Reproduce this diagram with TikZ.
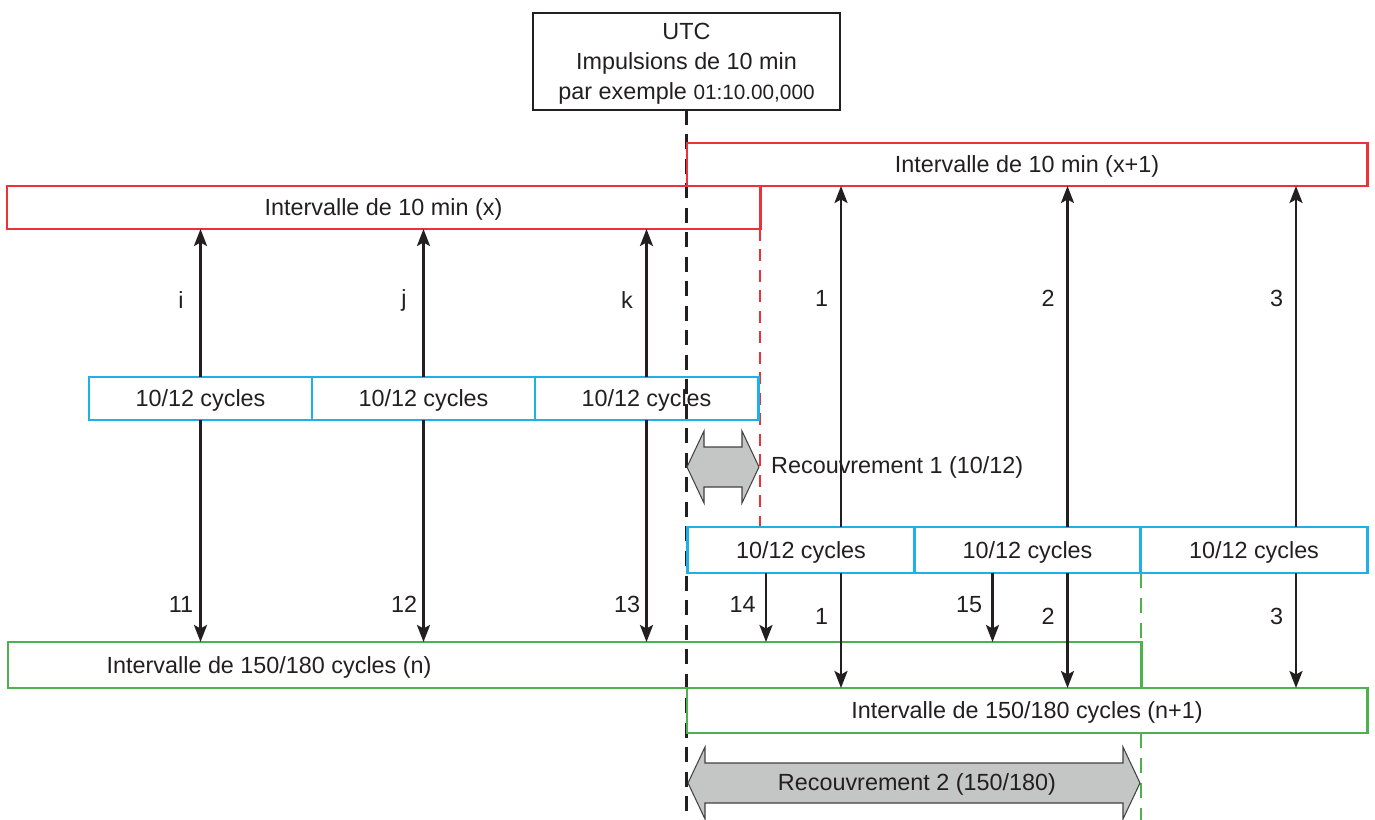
\documentclass[tikz,border=0pt]{standalone}
\usepackage{xcolor}
\usepackage{fontspec}
\setmainfont{Liberation Sans}
\usepackage{tikz}
\usetikzlibrary{positioning,arrows.meta,calc,backgrounds}
\definecolor{ink}{HTML}{231F20}
\definecolor{ivred}{HTML}{ED3237}
\definecolor{cycblue}{HTML}{1DB1E8}
\definecolor{ivgreen}{HTML}{4DB24D}
\definecolor{ovgray}{HTML}{C4C6C5}
\tikzset{
  blk/.style    = {draw, outer sep=0pt, inner sep=2pt, line width=1.7pt,
                   text=ink, align=center, text depth=0pt},
  utcbox/.style = {blk, draw=ink, line width=1.3pt, minimum width=6.14cm,
                   minimum height=1.94cm},
  win/.style    = {blk, draw=ivred, minimum height=0.86cm},
  cyc/.style    = {blk, draw=cycblue, minimum height=0.86cm},
  agg/.style    = {blk, draw=ivgreen, minimum height=0.92cm},
  txt/.style    = {text=ink},
  ar/.style     = {-{Stealth[length=3.4mm, width=2.6mm, inset=0.7mm]},
                   draw=ink, line width=1.4pt},
  lbl/.style    = {text=ink, inner sep=1pt, xshift=-3.9mm},
  ovl/.style    = {fill=ovgray, draw=ink!85, line width=0.6pt},
  utcline/.style= {draw=ink, line width=1.7pt, dash pattern=on 3mm off 1.9mm},
  redline/.style= {draw=ivred, line width=1.5pt, dash pattern=on 2.4mm off 1.7mm},
  grnline/.style= {draw=ivgreen, line width=1.5pt, dash pattern=on 3mm off 2mm},
}
\begin{document}
\begin{tikzpicture}[font=\fontsize{13.3}{17}\selectfont, node distance=0pt]
\useasboundingbox (0,0) rectangle (27.5,-16.4);

% --- UTC pulse ---
\node[utcbox] (utc) at (13.73,-1.23)
     {UTC\\Impulsions de 10 min\\par exemple {\fontsize{11.8}{17}\selectfont 01:10.00,000}};

% --- 10 min intervals ---
\node[win, minimum width=15.06cm] (ivx) at (7.67,-4.15)
     {Intervalle de 10 min (x)};
\node[win, minimum width=13.6cm] (ivx1) at (20.54,-3.29)
     {Intervalle de 10 min (x+1)};

% --- 10/12 cycle blocks ---
\node[cyc, minimum width=4.46cm] (a1) at (4.01,-7.97) {10/12 cycles};
\node[cyc, minimum width=4.46cm, right=of a1] (a2) {10/12 cycles};
\node[cyc, minimum width=4.46cm, right=of a2] (a3) {10/12 cycles};
\node[cyc, minimum width=4.53cm, minimum height=0.92cm] (c1) at (16.02,-11.0)
     {10/12 cycles};
\node[cyc, minimum width=4.53cm, minimum height=0.92cm, right=of c1] (c2)
     {10/12 cycles};
\node[cyc, minimum width=4.53cm, minimum height=0.92cm, right=of c2] (c3)
     {10/12 cycles};

% --- 150/180 cycle intervals ---
\node[agg, minimum width=22.66cm] (gn) at (11.49,-13.3) {};
\node[txt, text depth=0pt, right=1.85cm of gn.west] (gnlbl)
     {Intervalle de 150/180 cycles (n)};
\node[agg, minimum width=13.6cm, minimum height=0.9cm] (gn1) at (20.54,-14.21)
     {Intervalle de 150/180 cycles (n+1)};

% --- overlaps ---
\draw[ovl] (13.74,-9.34) -- ++(0.34,0.72) -- ++(0,-0.32) -- ++(0.76,0)
  -- ++(0,0.32) -- ++(0.34,-0.72) -- ++(-0.34,-0.72) -- ++(0,0.32)
  -- ++(-0.76,0) -- ++(0,-0.32) -- cycle;
\coordinate (ov1r) at (15.18,-9.34);
\node[txt, right=1.2mm of ov1r] (rec1) {Recouvrement 1 (10/12)};
\draw[ovl] (13.76,-15.66) -- ++(0.34,0.72) -- ++(0,-0.32) -- ++(8.36,0)
  -- ++(0,0.32) -- ++(0.34,-0.72) -- ++(-0.34,-0.72) -- ++(0,0.32)
  -- ++(-8.36,0) -- ++(0,-0.32) -- cycle;
\node[txt, text depth=0pt] (rec2) at (18.34,-15.64) {Recouvrement 2 (150/180)};

% --- interval x: i, j, k and 11, 12, 13 ---
\draw[ar] (a1.north) -- (a1.north |- ivx.south) node[lbl, pos=.52] {i};
\draw[ar] (a2.north) -- (a2.north |- ivx.south) node[lbl, pos=.52] {j};
\draw[ar] (a3.north) -- (a3.north |- ivx.south) node[lbl, pos=.52] {k};
\draw[ar] (a1.south) -- (a1.south |- gn.north) node[lbl, pos=.83] {11};
\draw[ar] (a2.south) -- (a2.south |- gn.north) node[lbl, pos=.83] {12};
\draw[ar] (a3.south) -- (a3.south |- gn.north) node[lbl, pos=.83] {13};

% --- interval x+1: 1, 2, 3 ---
\coordinate (u1) at ([xshift=8mm]c1.north);
\coordinate (u2) at ([xshift=8mm]c2.north);
\coordinate (u3) at ([xshift=8.4mm]c3.north);
\coordinate (d1) at ([xshift=8mm]c1.south);
\coordinate (d2) at ([xshift=8mm]c2.south);
\coordinate (d3) at ([xshift=8.4mm]c3.south);
\coordinate (e1) at ([xshift=-7mm]c1.south);
\coordinate (e2) at ([xshift=-7mm]c2.south);
\draw[ar] (u1) -- (u1 |- ivx1.south) node[lbl, pos=.67] {1};
\draw[ar] (u2) -- (u2 |- ivx1.south) node[lbl, pos=.67] {2};
\draw[ar] (u3) -- (u3 |- ivx1.south) node[lbl, pos=.67] {3};
\draw[ar] (d1) -- (d1 |- gn1.north) node[lbl, pos=.38] {1};
\draw[ar] (d2) -- (d2 |- gn1.north) node[lbl, pos=.38] {2};
\draw[ar] (d3) -- (d3 |- gn1.north) node[lbl, pos=.38] {3};
\draw[ar] (e1) -- (e1 |- gn.north) node[lbl, pos=.46, xshift=-.8mm] {14};
\draw[ar] (e2) -- (e2 |- gn.north) node[lbl, pos=.46, xshift=-.8mm] {15};

\begin{scope}[on background layer]
  \coordinate (bot) at (0,-16.4);
  \draw[utcline] (utc.south) -- (utc.south |- bot);
  \draw[redline] (ivx.south east) -- (ivx.south east |- c1.north);
  \draw[grnline] (gn.north east |- c2.south) -- (gn.north east);
  \draw[grnline] (gn.north east |- gn1.south) -- (gn.north east |- bot);
\end{scope}
\end{tikzpicture}
\end{document}
